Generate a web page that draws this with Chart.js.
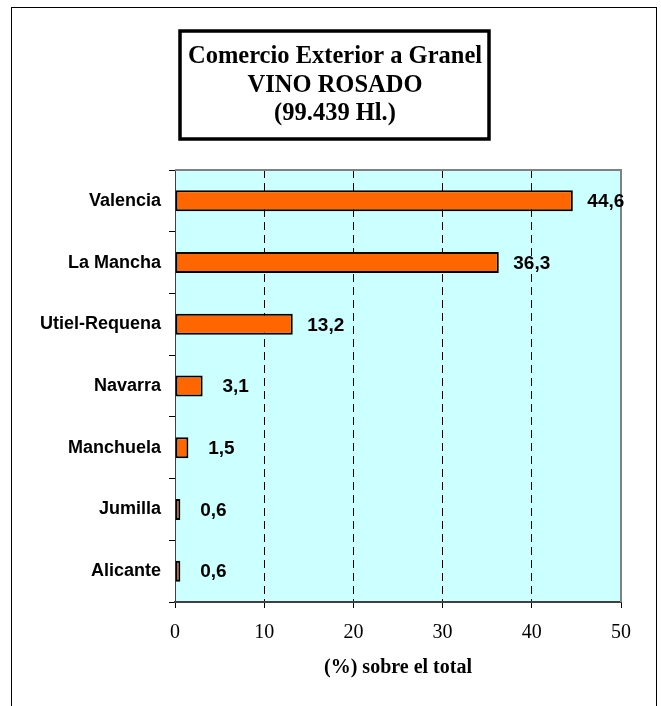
<!DOCTYPE html>
<html>
<head>
<meta charset="utf-8">
<title>Comercio Exterior a Granel - Vino Rosado</title>
<script src="https://cdn.jsdelivr.net/npm/chart.js@4/dist/chart.umd.min.js"></script>
<style>
  body { margin: 0; background: #fff; }
</style>
</head>
<body>
<canvas id="chart" width="661" height="706"></canvas>
<script>
// values
const regions = ['Valencia', 'La Mancha', 'Utiel-Requena', 'Navarra', 'Manchuela', 'Jumilla', 'Alicante'];
const shares = [44.6, 36.3, 13.2, 3.1, 1.5, 0.6, 0.6];
const titleLines = ['Comercio Exterior a Granel', 'VINO ROSADO', '(99.439 Hl.)'];
const axisTitle = '(%) sobre el total';
const xMin = 0, xMax = 50, xStep = 10;

const SANS = "'Liberation Sans', Arial, sans-serif";
const SERIF = "'Liberation Serif', 'Times New Roman', serif";

// frame, plot background, title box and value labels
const decor = {
  id: 'decor',
  beforeDraw(chart) {
    const {ctx, chartArea: a} = chart;
    ctx.save();
    ctx.fillStyle = '#ccffff';
    ctx.fillRect(a.left, a.top, a.right - a.left, a.bottom - a.top);
    ctx.restore();
  },
  afterDatasetsDraw(chart) {
    const {ctx, chartArea: a} = chart;
    ctx.save();
    // gray top/right edge of plot
    ctx.strokeStyle = '#808080';
    ctx.lineWidth = 2;
    ctx.beginPath();
    ctx.moveTo(a.left, a.top);
    ctx.lineTo(a.right, a.top);
    ctx.lineTo(a.right, a.bottom);
    ctx.stroke();

    // values next to bars
    ctx.fillStyle = '#000';
    ctx.font = 'bold 19px ' + SANS;
    ctx.textAlign = 'center';
    ctx.textBaseline = 'middle';
    chart.getDatasetMeta(0).data.forEach((bar, i) => {
      ctx.fillText(shares[i].toFixed(1).replace('.', ','), bar.x + 33, bar.y + 1);
    });
    ctx.restore();
  },
  afterDraw(chart) {
    const {ctx} = chart;
    ctx.save();
    ctx.strokeStyle = '#000';
    ctx.lineWidth = 1;
    ctx.strokeRect(11.5, 7.5, 645, 720);
    ctx.lineWidth = 3.5;
    ctx.strokeRect(180, 31, 309, 108);

    // boxed title
    ctx.fillStyle = '#000';
    ctx.font = 'bold 24.5px ' + SERIF;
    ctx.textAlign = 'center';
    ctx.textBaseline = 'middle';
    titleLines.forEach((line, i) => {
      ctx.fillText(line, 335, 56.5 + i * 28.8);
    });
    ctx.restore();
  }
};

new Chart(document.getElementById('chart'), {
  type: 'bar',
  data: {
    labels: regions,
    datasets: [{
      data: shares,
      backgroundColor: '#ff6600',
      borderColor: '#000',
      borderWidth: 2,
      borderSkipped: false,
      barPercentage: 0.34,
      categoryPercentage: 1
    }]
  },
  options: {
    indexAxis: 'y',
    responsive: false,
    animation: false,
    layout: { padding: { left: 0, right: 40, top: 170, bottom: 0 } },
    plugins: {
      legend: { display: false },
      tooltip: { enabled: false },
      title: { display: false }
    },
    scales: {
      x: {
        min: xMin,
        max: xMax,
        afterFit(scale) { scale.height = 104; },
        ticks: {
          stepSize: xStep,
          color: '#000',
          padding: 13,
          font: { family: SERIF, size: 20 }
        },
        grid: {
          color: c => (c.tick && (c.tick.value === xMin || c.tick.value === xMax)) ? 'rgba(0,0,0,0)' : '#000',
          tickColor: '#000',
          tickLength: 6,
          lineWidth: 1
        },
        border: { color: '#404040', width: 2, dash: [8, 5] },
        title: {
          display: true,
          text: axisTitle,
          color: '#000',
          font: { family: SERIF, size: 20, weight: 'bold', lineHeight: 1.2 },
          padding: { top: 0, bottom: 26 }
        }
      },
      y: {
        afterFit(scale) { scale.width = 175; },
        ticks: {
          color: '#000',
          padding: 8,
          font: { family: SANS, size: 18, weight: 'bold' }
        },
        grid: {
          drawOnChartArea: false,
          color: '#000',
          tickLength: 6
        },
        border: { color: '#404040', width: 1 }
      }
    }
  },
  plugins: [decor]
});
</script>
</body>
</html>
